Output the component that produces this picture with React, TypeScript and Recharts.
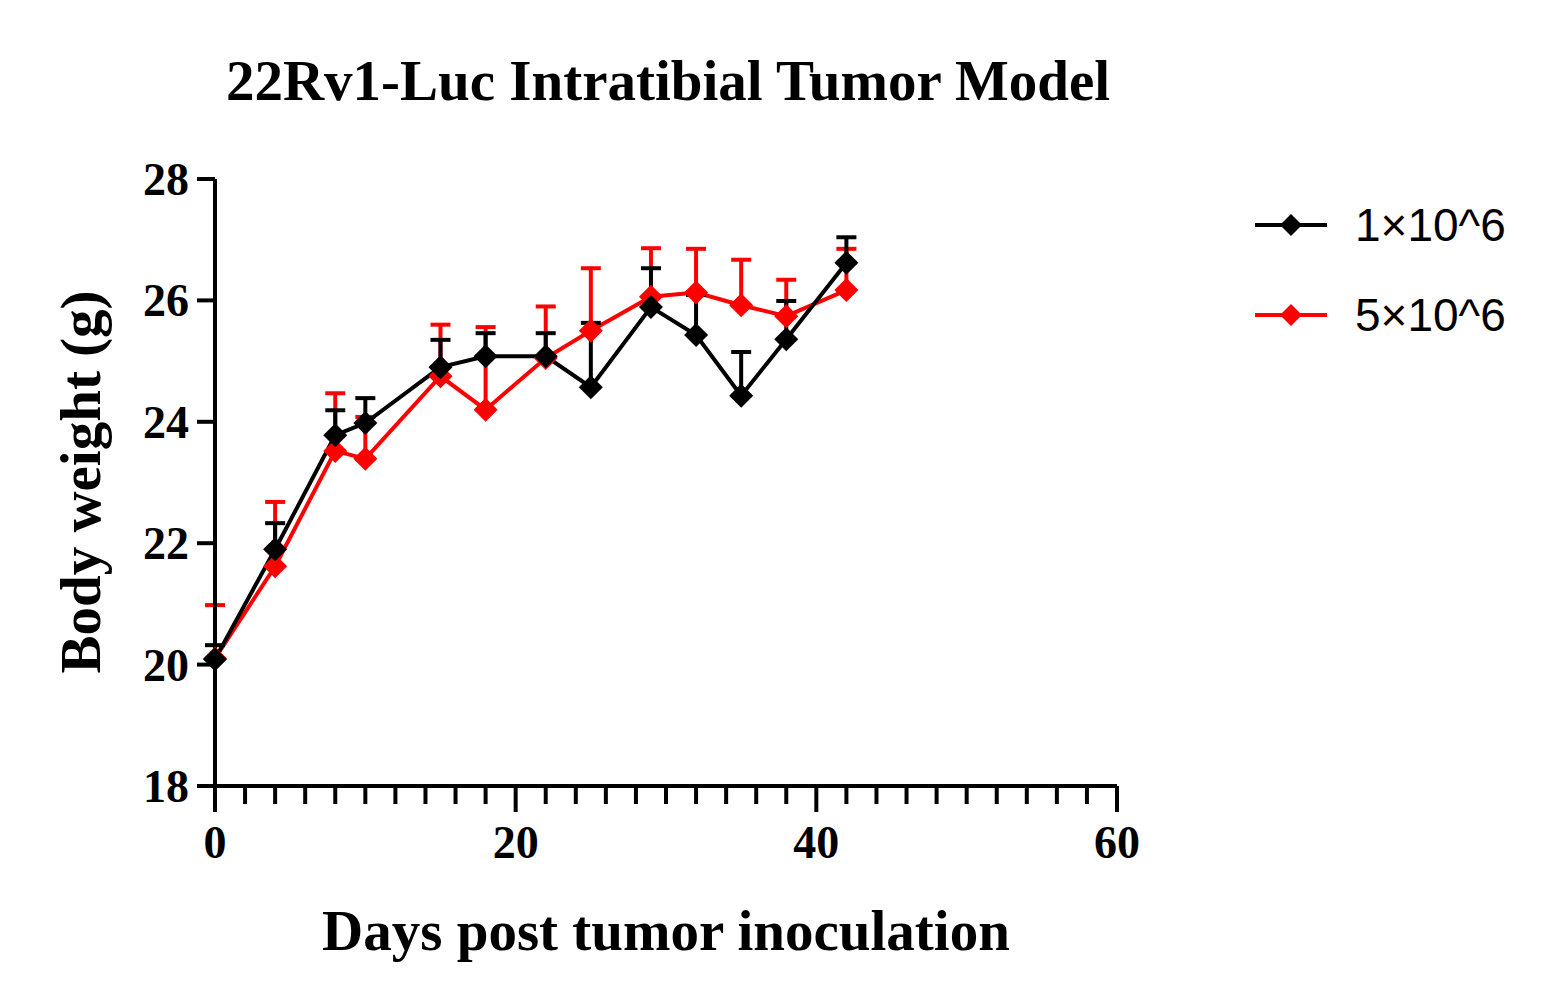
import React from 'react';
import { ComposedChart, Line, XAxis, YAxis, ErrorBar } from 'recharts';

const days = [0, 4, 8, 10, 15, 18, 22, 25, 29, 32, 35, 38, 42];
const lowDose = [20.09, 21.9, 23.78, 23.98, 24.9, 25.08, 25.08, 24.57, 25.89, 25.43, 24.43, 25.36, 26.62];
const lowTop = [20.32, 22.33, 24.19, 24.39, 25.35, 25.46, 25.46, 25.63, 26.53, 26.09, 25.15, 25.99, 27.04];
const highDose = [20.1, 21.62, 23.52, 23.39, 24.75, 24.2, 25.05, 25.5, 26.06, 26.13, 25.92, 25.74, 26.17];
const highTop = [20.98, 22.68, 24.47, 24.08, 25.6, 25.56, 25.9, 26.53, 26.86, 26.85, 26.67, 26.34, 26.85];
const xTicks = Array.from({ length: 31 }, (_, i) => i * 2);
const yTicks = [18, 20, 22, 24, 26, 28];

const data = days.map((d, i) => ({
  day: d,
  low: lowDose[i],
  lowErr: [0, lowTop[i] - lowDose[i]],
  high: highDose[i],
  highErr: [0, highTop[i] - highDose[i]],
}));

const font = '"Liberation Serif", "Times New Roman", serif';

const Diamond = (color: string) => (p: any) => {
  const { cx, cy } = p;
  if (cx == null || cy == null) return null;
  const s = 12;
  return <path key={p.index} d={`M${cx},${cy - s}L${cx + s},${cy}L${cx},${cy + s}L${cx - s},${cy}Z`} fill={color} />;
};

const XTick = (p: any) => {
  const { x, y, payload } = p;
  const major = payload.value % 20 === 0;
  return (
    <g>
      <line x1={x} x2={x} y1={y - 8} y2={y + (major ? 18 : 10)} stroke="#000" strokeWidth={4} />
      {major && (
        <text x={x} y={y + 64} textAnchor="middle" fontFamily={font} fontWeight="bold" fontSize={46} fill="#000">
          {payload.value}
        </text>
      )}
    </g>
  );
};

const YTick = (p: any) => {
  const { x, y, payload } = p;
  return (
    <g>
      <line x1={x - 10} x2={x + 8} y1={y} y2={y} stroke="#000" strokeWidth={4} />
      <text x={x - 18} y={y + 16} textAnchor="end" fontFamily={font} fontWeight="bold" fontSize={46} fill="#000">
        {payload.value}
      </text>
    </g>
  );
};

export default function App() {
  return (
    <div style={{ position: 'relative', width: 1550, height: 1000, background: '#fff' }}>
      <ComposedChart width={1550} height={1000} data={data} margin={{ top: 171, right: 441, bottom: 162, left: 127 }}>
        <XAxis dataKey="day" type="number" domain={[0, 60]} ticks={xTicks} interval={0}
          axisLine={{ stroke: '#000', strokeWidth: 4 }} tickLine={false} tick={<XTick />} height={60} />
        <YAxis type="number" domain={[18, 28]} ticks={yTicks} interval={0} width={80}
          axisLine={{ stroke: '#000', strokeWidth: 4 }} tickLine={false} tick={<YTick />} />
        <Line dataKey="high" stroke="#ff0000" strokeWidth={4} dot={Diamond('#ff0000')} isAnimationActive={false}>
          <ErrorBar dataKey="highErr" direction="y" stroke="#ff0000" strokeWidth={4} width={10} />
        </Line>
        <Line dataKey="low" stroke="#000" strokeWidth={4} dot={Diamond('#000')} isAnimationActive={false}>
          <ErrorBar dataKey="lowErr" direction="y" stroke="#000" strokeWidth={4} width={10} />
        </Line>
      </ComposedChart>
      <div style={{ position: 'absolute', left: 0, width: 1320, top: 40, textAlign: 'center', fontFamily: font, fontWeight: 'bold', fontSize: 57 }}>
        22Rv1-Luc Intratibial Tumor Model
      </div>
      <div style={{ position: 'absolute', left: 207, width: 902, top: 890, textAlign: 'center', fontFamily: font, fontWeight: 'bold', fontSize: 57 }}>
        Days post tumor inoculation
      </div>
      <div style={{ position: 'absolute', left: 72, top: 474, width: 0, height: 0 }}>
        <div style={{ position: 'absolute', transform: 'translate(-50%,-50%) rotate(-90deg)', whiteSpace: 'nowrap', fontFamily: font, fontWeight: 'bold', fontSize: 57 }}>
          Body weight (g)
        </div>
      </div>
      {[{ label: '1×10^6', color: '#000', top: 190 }, { label: '5×10^6', color: '#ff0000', top: 280 }].map((l) => (
        <div key={l.label} style={{ position: 'absolute', left: 1245, top: l.top, display: 'flex', alignItems: 'center' }}>
          <svg width={76} height={44}>
            <line x1={2} x2={74} y1={22} y2={22} stroke={l.color} strokeWidth={4} />
            <path d="M38,11L49,22L38,33L27,22Z" fill={l.color} />
          </svg>
          <span style={{ marginLeft: 26, fontFamily: 'Arial, "Liberation Sans", sans-serif', fontSize: 46 }}>{l.label}</span>
        </div>
      ))}
    </div>
  );
}
